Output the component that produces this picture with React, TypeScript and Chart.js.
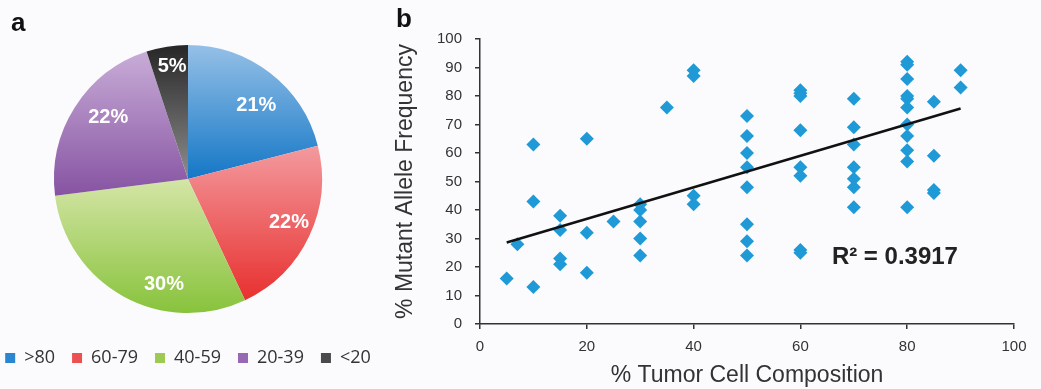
import React, { useEffect, useRef } from 'react';
import { Chart, registerables } from 'chart.js';

Chart.register(...registerables);

// ---------- data ----------
const pieCategories = ['>80', '60-79', '40-59', '20-39', '<20'];
const pieValues = [21, 22, 30, 22, 5];

const scatterX = [
  5,
  7,
  10, 10, 10,
  15, 15, 15, 15,
  20, 20, 20,
  25,
  30, 30, 30, 30, 30,
  35,
  40, 40, 40, 40,
  50, 50, 50, 50, 50, 50, 50, 50,
  60, 60, 60, 60, 60, 60, 60, 60,
  70, 70, 70, 70, 70, 70, 70,
  80, 80, 80, 80, 80, 80, 80, 80, 80, 80, 80,
  85, 85, 85, 85,
  90, 90,
];
const scatterY = [
  16,
  28,
  63, 43, 13,
  38, 33, 23, 21,
  65, 32, 18,
  36,
  42, 40, 36, 30, 24,
  76,
  89, 87, 45, 42,
  73, 66, 60, 55, 48, 35, 29, 24,
  82, 81, 80, 68, 55, 52, 26, 25,
  79, 69, 63, 55, 51, 48, 41,
  92, 91, 86, 80, 79, 76, 70, 66, 61, 57, 41,
  78, 59, 47, 46,
  89, 83,
];
const trendX = [5, 90];
const trendY = [28.6, 75.6];
const rSquaredText = 'R\u00B2 = 0.3917';
const rSquaredAt = { x: 77.7, y: 23.4 };

const xAxisTitle = '% Tumor Cell Composition';
const yAxisTitle = '% Mutant Allele Frequency';

// ---------- styles ----------
const SANS = "'Liberation Sans', Arial, Helvetica, sans-serif";
const LEGEND_FONT = "'Open Sans', 'Noto Sans', sans-serif";
const PIE_RADIUS = 134;
const sliceTop = ['#95c0e7', '#f39a9e', '#d4e5a6', '#c8acd7', '#262626'];
const sliceBottom = ['#1477c6', '#e8302f', '#88c33c', '#8653a2', '#8e8e8e'];
const legendColors = ['#2a86d0', '#ec5052', '#9cca52', '#9768b3', '#4a4a4a'];
const labelNudgeDeg = [5, -2, -16, 5, 1];
const labelRadiusFrac = [0.75, 0.82, 0.81, 0.75, 0.85];
const POINT_COLOR = '#1f9ad6';
const AXIS_COLOR = '#333333';

const pieLabelPlugin = {
  id: 'pieLabels',
  afterDatasetsDraw(chart: any) {
    const meta = chart.getDatasetMeta(0);
    const c = chart.ctx;
    c.save();
    c.font = `bold 20px ${SANS}`;
    c.fillStyle = '#ffffff';
    c.textAlign = 'center';
    c.textBaseline = 'middle';
    meta.data.forEach((arc: any, i: number) => {
      const p = arc.getProps(['x', 'y', 'startAngle', 'endAngle', 'outerRadius'], true);
      const mid = (p.startAngle + p.endAngle) / 2 + (labelNudgeDeg[i] * Math.PI) / 180;
      const r = p.outerRadius * labelRadiusFrac[i];
      c.fillText(`${pieValues[i]}%`, p.x + Math.cos(mid) * r, p.y + Math.sin(mid) * r);
    });
    c.restore();
  },
};

const r2Plugin = {
  id: 'r2Label',
  afterDatasetsDraw(chart: any) {
    const c = chart.ctx;
    const xs = chart.scales.x;
    const ys = chart.scales.y;
    c.save();
    c.font = `bold 24px ${SANS}`;
    c.fillStyle = '#222222';
    c.textAlign = 'center';
    c.textBaseline = 'middle';
    c.fillText(rSquaredText, xs.getPixelForValue(rSquaredAt.x), ys.getPixelForValue(rSquaredAt.y));
    c.restore();
  },
};

function sliceGradient(ctx: any) {
  const chart = ctx.chart;
  const area = chart.chartArea;
  const i = ctx.dataIndex ?? 0;
  if (!area) return sliceTop[i];
  const cy = (area.top + area.bottom) / 2;
  const total = pieValues.reduce((a, b) => a + b, 0);
  let acc = 0;
  for (let j = 0; j < i; j++) acc += pieValues[j];
  const a0 = (acc / total) * Math.PI * 2 - Math.PI / 2;
  const a1 = ((acc + pieValues[i]) / total) * Math.PI * 2 - Math.PI / 2;
  let ymin = cy;
  let ymax = cy;
  for (let k = 0; k <= 60; k++) {
    const a = a0 + ((a1 - a0) * k) / 60;
    const y = cy + Math.sin(a) * PIE_RADIUS;
    ymin = Math.min(ymin, y);
    ymax = Math.max(ymax, y);
  }
  const g = chart.ctx.createLinearGradient(0, ymin, 0, ymax);
  g.addColorStop(0, sliceTop[i]);
  g.addColorStop(1, sliceBottom[i]);
  return g;
}

function PieChart() {
  const ref = useRef<HTMLCanvasElement | null>(null);
  useEffect(() => {
    if (!ref.current) return;
    const chart = new Chart(ref.current, {
      type: 'pie',
      data: {
        labels: pieCategories,
        datasets: [
          {
            data: pieValues,
            backgroundColor: sliceGradient as any,
            borderWidth: 0,
            radius: PIE_RADIUS,
          } as any,
        ],
      },
      options: {
        animation: false,
        responsive: false,
        events: [],
        layout: { padding: { top: 26, bottom: 12, left: 0, right: 0 } },
        plugins: {
          tooltip: { enabled: false },
          legend: {
            position: 'bottom',
            labels: {
              boxWidth: 10,
              boxHeight: 10,
              padding: 17,
              color: '#333333',
              font: { family: LEGEND_FONT, size: 18 },
              generateLabels: () =>
                pieCategories.map((t, i) => ({
                  text: t,
                  fillStyle: legendColors[i],
                  strokeStyle: legendColors[i],
                  lineWidth: 0,
                  hidden: false,
                  index: i,
                  fontColor: '#333333',
                })) as any,
            },
          },
        },
      },
      plugins: [pieLabelPlugin],
    });
    return () => chart.destroy();
  }, []);
  return <canvas ref={ref} width={420} height={389} style={{ display: 'block' }} />;
}

function ScatterChart() {
  const ref = useRef<HTMLCanvasElement | null>(null);
  useEffect(() => {
    if (!ref.current) return;
    const tickFont = { family: SANS, size: 15 };
    const titleFont = { family: SANS, size: 23 };
    const chart = new Chart(ref.current, {
      type: 'scatter',
      data: {
        datasets: [
          {
            type: 'line',
            data: trendX.map((x, i) => ({ x, y: trendY[i] })),
            borderColor: '#111111',
            borderWidth: 2.5,
            pointRadius: 0,
            fill: false,
            tension: 0,
          } as any,
          {
            type: 'scatter',
            data: scatterX.map((x, i) => ({ x, y: scatterY[i] })),
            pointStyle: 'rectRot',
            pointRadius: 7,
            backgroundColor: POINT_COLOR,
            borderWidth: 0,
          } as any,
        ],
      },
      options: {
        animation: false,
        responsive: false,
        events: [],
        layout: { padding: { top: 39, right: 27, left: 0, bottom: 0 } },
        plugins: { legend: { display: false }, tooltip: { enabled: false } },
        scales: {
          x: {
            type: 'linear',
            min: 0,
            max: 100,
            ticks: { stepSize: 20, font: tickFont, color: AXIS_COLOR, padding: 9 },
            grid: { drawOnChartArea: false, tickLength: 5, color: AXIS_COLOR, lineWidth: 1.5 },
            border: { color: AXIS_COLOR, width: 1.5 },
            title: {
              display: true,
              text: xAxisTitle,
              font: titleFont,
              color: AXIS_COLOR,
              padding: { top: 0, bottom: 0 },
            },
            afterFit: (s: any) => {
              s.height = 65;
            },
          },
          y: {
            type: 'linear',
            min: 0,
            max: 100,
            ticks: { stepSize: 10, font: tickFont, color: AXIS_COLOR, padding: 13 },
            grid: { drawOnChartArea: false, tickLength: 5, color: AXIS_COLOR, lineWidth: 1.5 },
            border: { color: AXIS_COLOR, width: 1.5 },
            title: {
              display: true,
              text: yAxisTitle,
              font: titleFont,
              color: AXIS_COLOR,
              padding: { top: 2, bottom: 0 },
            },
            afterFit: (s: any) => {
              s.width = 90;
            },
          },
        },
      } as any,
      plugins: [r2Plugin],
    });
    return () => chart.destroy();
  }, []);
  return <canvas ref={ref} width={651} height={389} style={{ display: 'block' }} />;
}

export default function App() {
  const panelLabel: React.CSSProperties = {
    position: 'absolute',
    font: `bold 26px ${SANS}`,
    lineHeight: '26px',
    color: '#111111',
    margin: 0,
  };
  return (
    <div
      style={{
        position: 'absolute',
        left: 0,
        top: 0,
        width: 1041,
        height: 389,
        background: '#fbfbfd',
        overflow: 'hidden',
      }}
    >
      <div style={{ position: 'absolute', left: -22, top: 0 }}>
        <PieChart />
      </div>
      <div style={{ position: 'absolute', left: 390, top: 0 }}>
        <ScatterChart />
      </div>
      <div style={{ ...panelLabel, left: 11, top: 9 }}>a</div>
      <div style={{ ...panelLabel, left: 396, top: 5 }}>b</div>
    </div>
  );
}
